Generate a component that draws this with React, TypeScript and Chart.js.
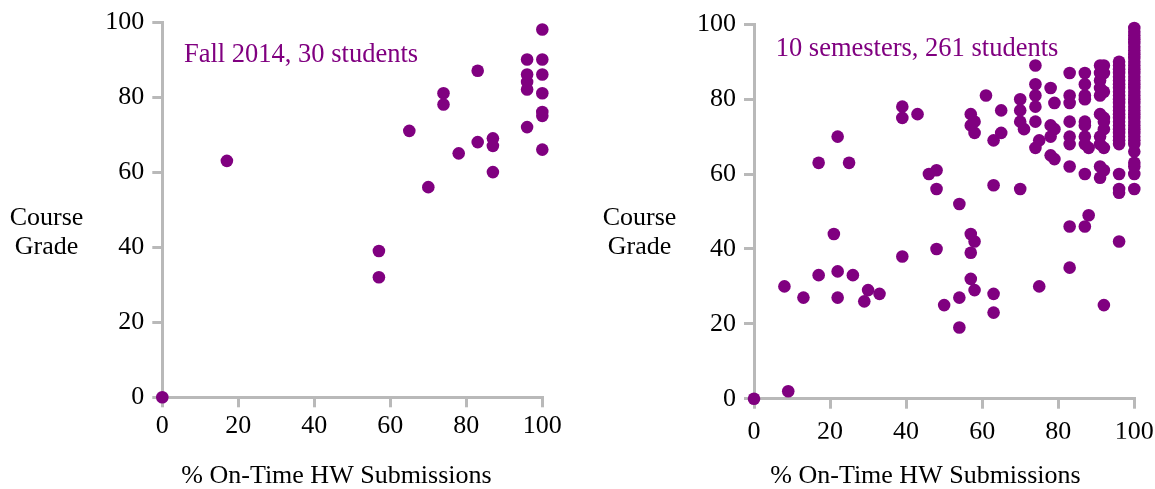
import React, { useEffect, useRef } from "react";
import { Chart, registerables } from "chart.js";

Chart.register(...registerables);

// ---------- data ----------
const axisTicks = [0, 20, 40, 60, 80, 100];

const yTitleLines = ["Course", "Grade"];
const xTitle = "% On-Time HW Submissions";
const leftNote = "Fall 2014, 30 students";
const rightNote = "10 semesters, 261 students";

// Fall 2014 (left)
const fallX = [0, 17, 57, 57, 65, 70, 74, 74, 78, 83, 83, 87, 87, 87, 96, 96, 96, 96, 96, 100, 100, 100, 100, 100, 100, 100];
const fallY = [0, 63, 39, 32, 71, 56, 81, 78, 65, 87, 68, 69, 67, 60, 90, 86, 84, 82, 72, 98, 90, 86, 81, 76, 75, 66];

// 10 semesters (right) - scattered points
const allX = [
  0, 9, 8, 13, 17, 17, 21, 22, 22, 22, 25, 26, 29, 30, 33,
  39, 39, 39, 43, 46, 48, 48, 48, 50, 54, 54, 54,
  57, 58, 57, 58, 57, 58, 57, 57, 58, 61, 63, 63, 63, 63, 65, 65,
  70, 70, 70, 71, 70, 74, 74, 74, 74, 74, 75, 74, 75,
  78, 79, 78, 79, 78, 78, 79,
  83, 83, 83, 83, 83, 83, 83, 83, 83,
  87, 87, 87, 87, 87, 87, 87, 87, 88, 87, 88, 87,
  91, 92, 91, 92, 91, 91, 92, 91, 91, 92, 92, 92, 91, 91, 92, 91, 92, 91, 92,
];
const allY = [
  0, 2, 30, 27, 33, 63, 44, 70, 34, 27, 63, 33, 26, 29, 28,
  78, 75, 38, 76, 60, 61, 56, 40, 25, 52, 27, 19,
  76, 74, 73, 71, 44, 42, 39, 32, 29, 81, 69, 57, 28, 23, 77, 71,
  80, 77, 74, 72, 56, 89, 84, 81, 78, 74, 69, 67, 30,
  83, 79, 73, 72, 70, 65, 64,
  87, 81, 79, 74, 70, 68, 62, 46, 35,
  87, 84, 81, 80, 74, 73, 70, 68, 67, 60, 49, 46,
  89, 89, 87, 87, 85, 83, 82, 81, 76, 75, 74, 72, 70, 68, 67, 62, 61, 59, 25,
];

// 10 semesters (right) - the dense columns at 96% and 100%
const col96X = [
  96, 96, 96, 96, 96, 96, 96, 96, 96, 96, 96, 96, 96, 96, 96, 96, 96, 96, 96, 96, 96, 96, 96, 96, 96, 96, 96,
];
const col96Y = [
  90, 89, 88, 87, 86, 85, 84, 83, 82, 81, 80, 79, 78, 77, 76, 75, 74, 73, 72, 71, 70, 69, 68, 60, 56, 55, 42,
];
const col100X = [
  100, 100, 100, 100, 100, 100, 100, 100, 100, 100, 100, 100, 100, 100, 100, 100, 100, 100, 100,
  100, 100, 100, 100, 100, 100, 100, 100, 100, 100, 100, 100, 100, 100, 100, 100, 100, 100,
];
const col100Y = [
  99, 98, 97, 96, 95, 94, 93, 92, 91, 90, 89, 88, 87, 86, 85, 84, 83, 82, 81,
  80, 79, 78, 77, 76, 75, 74, 73, 72, 71, 70, 69, 68, 66, 63, 62, 60, 56,
];

// ---------- styling ----------
const SERIF = "'Liberation Serif', 'Times New Roman', Times, serif";
const PURPLE = "#800080";
const AXIS = "#b9b9b9";

function toPoints(xs: number[], ys: number[]) {
  return xs.map((x, i) => ({ x, y: ys[i] }));
}

const textPlugin = {
  id: "panelText",
  afterDraw(chart: any, _args: any, opts: any) {
    const ctx = chart.ctx;
    ctx.save();
    ctx.fillStyle = "#000";
    ctx.font = `26px ${SERIF}`;
    ctx.textAlign = "center";
    ctx.textBaseline = "alphabetic";
    yTitleLines.forEach((line, i) => {
      ctx.fillText(line, opts.yTitleX, opts.yTitleY + i * 29);
    });
    ctx.fillText(xTitle, opts.xTitleX, opts.xTitleY);
    ctx.fillStyle = PURPLE;
    ctx.font = `26.5px ${SERIF}`;
    ctx.textAlign = "left";
    ctx.fillText(opts.note, opts.noteX, opts.noteY);
    ctx.restore();
  },
};

type PanelProps = {
  left: number;
  width: number;
  height: number;
  points: { x: number; y: number }[];
  padding: { left: number; right: number; top: number; bottom: number };
  xLabelPad: number;
  text: any;
};

function Panel({ left, width, height, points, padding, xLabelPad, text }: PanelProps) {
  const ref = useRef<HTMLCanvasElement | null>(null);
  useEffect(() => {
    if (!ref.current) return;
    const tickFont = { family: SERIF, size: 26 };
    const chart = new Chart(ref.current, {
      type: "scatter",
      data: {
        datasets: [
          {
            data: points,
            backgroundColor: PURPLE,
            borderWidth: 0,
            pointRadius: 6.3,
            pointHoverRadius: 6.3,
            clip: false as any,
          } as any,
        ],
      },
      plugins: [textPlugin as any],
      options: {
        responsive: false,
        animation: false,
        devicePixelRatio: 1,
        events: [],
        layout: { padding },
        plugins: {
          legend: { display: false },
          tooltip: { enabled: false },
          panelText: text,
        } as any,
        scales: {
          x: {
            type: "linear",
            min: 0,
            max: 100,
            afterBuildTicks: (s: any) => {
              s.ticks = axisTicks.map((v) => ({ value: v }));
            },
            ticks: {
              font: tickFont,
              color: "#000",
              padding: xLabelPad,
              maxRotation: 0,
              autoSkip: false,
            },
            grid: {
              drawOnChartArea: false,
              drawTicks: true,
              tickLength: 10,
              color: AXIS,
              lineWidth: 3,
            },
            border: { display: true, color: AXIS, width: 3 },
            afterFit: (s: any) => {
              s.height = 40;
              s.paddingLeft = 0;
              s.paddingRight = 0;
            },
          },
          y: {
            type: "linear",
            min: 0,
            max: 100,
            afterBuildTicks: (s: any) => {
              s.ticks = axisTicks.map((v) => ({ value: v }));
            },
            ticks: {
              font: tickFont,
              color: "#000",
              padding: 8,
              autoSkip: false,
            },
            grid: {
              drawOnChartArea: false,
              drawTicks: true,
              tickLength: 10,
              color: AXIS,
              lineWidth: 3,
            },
            border: { display: true, color: AXIS, width: 3 },
            afterFit: (s: any) => {
              s.width = 60;
              s.paddingTop = 0;
              s.paddingBottom = 0;
            },
          },
        },
      } as any,
    });
    return () => chart.destroy();
  }, []);
  return (
    <canvas
      ref={ref}
      width={width}
      height={height}
      style={{ display: "block", position: "absolute", left, top: 0, width, height }}
    />
  );
}

export default function App() {
  return (
    <div style={{ position: "relative", width: 1155, height: 489, overflow: "hidden" }}>
      <style>{"html,body{margin:0;padding:0;overflow:hidden;background:#fff}"}</style>
      <Panel
        left={0}
        width={577}
        height={489}
        points={toPoints(fallX, fallY)}
        padding={{ left: 102.3, right: 34.7, top: 22, bottom: 51.7 }}
        xLabelPad={3}
        text={{ yTitleX: 46.5, yTitleY: 224.5, xTitleX: 336.5, xTitleY: 483, note: leftNote, noteX: 184, noteY: 62 }}
      />
      <Panel
        left={577}
        width={578}
        height={489}
        points={[...toPoints(allX, allY), ...toPoints(col96X, col96Y), ...toPoints(col100X, col100Y)]}
        padding={{ left: 117, right: 20.7, top: 24.3, bottom: 50.3 }}
        xLabelPad={8}
        text={{ yTitleX: 62.5, yTitleY: 224.5, xTitleX: 348.5, xTitleY: 483, note: rightNote, noteX: 198.7, noteY: 56 }}
      />
    </div>
  );
}
